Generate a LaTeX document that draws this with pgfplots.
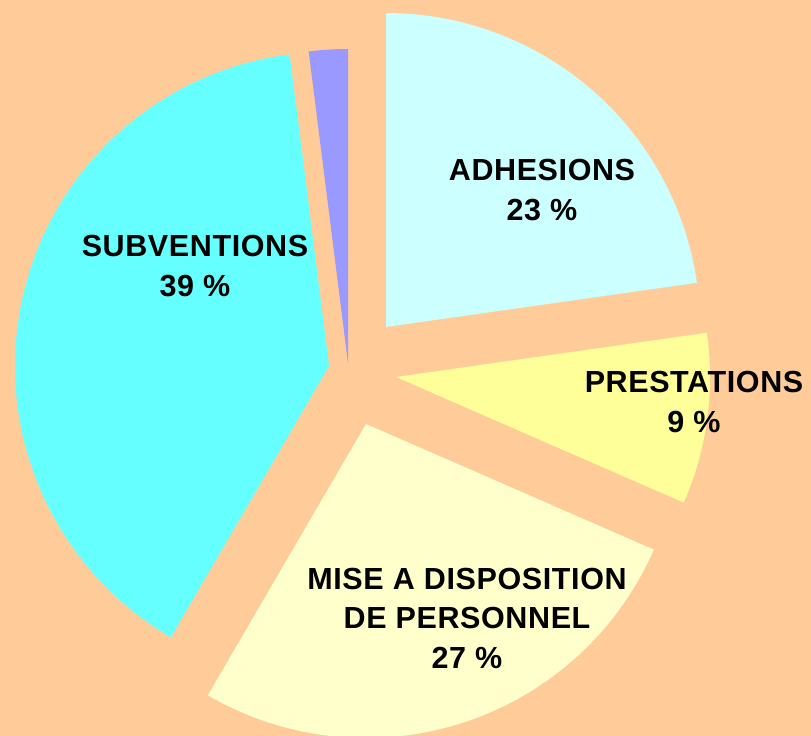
\documentclass[border=0pt]{standalone}
\usepackage{pgfplots}
\pgfplotsset{compat=1.18}
\usepackage{fontspec}
\setmainfont{Liberation Sans}
\newfontfamily\labfont[LetterSpace=2]{Liberation Sans}
\definecolor{bgpeach}{HTML}{FFCC99}
\definecolor{cadh}{HTML}{CCFFFF}
\definecolor{cpre}{HTML}{FFFF99}
\definecolor{cmis}{HTML}{FFFFCC}
\definecolor{csub}{HTML}{66FFFF}
\definecolor{clav}{HTML}{9999FF}
% shares (percent): adhesions, prestations, mise a disposition, subventions, other
% 22.75, 8.8, 26.85, 39.6, 2.0  -> start 90 deg, clockwise
\def\R{314}
\begin{document}
\begin{tikzpicture}
\begin{axis}[
  scale only axis, width=811pt, height=736pt,
  xmin=0, xmax=811, ymin=0, ymax=736,
  hide axis, clip=true,
  axis background/.style={fill=bgpeach},
]
% ADHESIONS 22.75 % : 8.1 .. 90
\addplot[fill=cadh, draw=none, domain=8.1:90, samples=90, variable=\t]
  ({386+\R*cos(\t)},{409+\R*sin(\t)}) -- (axis cs:386,409) -- cycle;
% PRESTATIONS 8.8 % : -23.58 .. 8.1
\addplot[fill=cpre, draw=none, domain=-23.58:8.1, samples=40, variable=\t]
  ({396+\R*cos(\t)},{359+\R*sin(\t)}) -- (axis cs:396,359) -- cycle;
% MISE A DISPOSITION 26.85 % : -120.24 .. -23.58
\addplot[fill=cmis, draw=none, domain=-120.24:-23.58, samples=100, variable=\t]
  ({366+\R*cos(\t)},{312+\R*sin(\t)}) -- (axis cs:366,312) -- cycle;
% SUBVENTIONS 39.6 % : 97.2 .. 239.76
\addplot[fill=csub, draw=none, domain=97.2:239.76, samples=140, variable=\t]
  ({329+\R*cos(\t)},{370+\R*sin(\t)}) -- (axis cs:329,370) -- cycle;
% OTHER 2.0 % : 90 .. 97.2
\addplot[fill=clav, draw=none, domain=90:97.2, samples=12, variable=\t]
  ({348+\R*cos(\t)},{373+\R*sin(\t)}) -- (axis cs:348,373) -- cycle;

\tikzset{lab/.style={font=\labfont\fontsize{30.5}{39.5}\selectfont\bfseries, align=center, text=black, inner sep=0pt}}
\node[lab] at (axis cs:542,546) {ADHESIONS\\23 \%};
\node[lab] at (axis cs:195,470) {SUBVENTIONS\\39 \%};
\node[lab] at (axis cs:694,334) {PRESTATIONS\\9 \%};
\node[lab] at (axis cs:467,118) {MISE A DISPOSITION\\DE PERSONNEL\\27 \%};
\end{axis}
\end{tikzpicture}
\end{document}
